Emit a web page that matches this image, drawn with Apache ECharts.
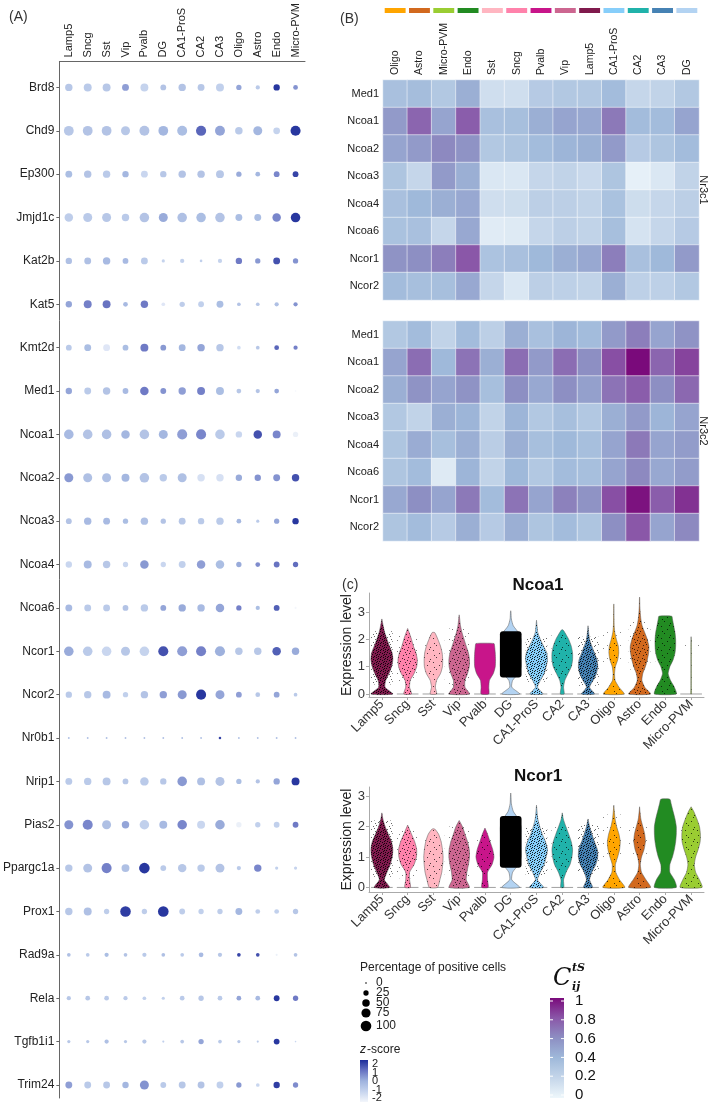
<!DOCTYPE html>
<html><head><meta charset="utf-8">
<script src="https://cdn.jsdelivr.net/npm/echarts@6/dist/echarts.min.js"></script>
<style>html,body{margin:0;padding:0;background:#fff}#c{width:709px;height:1109px}</style>
</head><body><div id="c"></div>
<script>
// ---------------- DATA ----------------
const cellTypes = ['Lamp5','Sncg','Sst','Vip','Pvalb','DG','CA1-ProS','CA2','CA3','Oligo','Astro','Endo','Micro-PVM'];
const genes = ['Brd8','Chd9','Ep300','Jmjd1c','Kat2b','Kat5','Kmt2d','Med1','Ncoa1','Ncoa2','Ncoa3','Ncoa4','Ncoa6','Ncor1','Ncor2','Nr0b1','Nrip1','Pias2','Ppargc1a','Prox1','Rad9a','Rela','Tgfb1i1','Trim24'];
// percentage of positive cells (rows = genes, cols = cellTypes)
const pctRows = [
 [49,56,56,42,56,30,49,42,56,25,16,36,20],
 [85,85,85,72,88,85,88,92,88,50,72,40,90],
 [42,49,49,36,42,36,49,49,56,25,20,30,30],
 [64,72,72,49,81,72,81,81,81,42,42,64,81],
 [36,42,49,30,42,9,16,6,16,36,25,42,25],
 [36,56,56,20,49,12,25,30,42,12,12,16,16],
 [30,42,42,30,56,30,42,49,49,12,12,20,16],
 [36,42,49,30,64,30,49,56,56,20,16,20,0],
 [81,81,81,64,81,72,90,90,81,36,64,56,25],
 [72,72,72,56,81,49,72,49,49,36,36,42,49],
 [30,49,42,25,49,25,42,36,49,20,9,25,36],
 [36,56,49,25,64,25,42,64,64,25,20,30,25],
 [42,42,42,30,49,30,49,49,64,25,16,30,4],
 [81,81,81,72,81,90,90,90,90,49,49,64,49],
 [36,49,56,25,49,49,72,90,72,30,20,30,12],
 [3,3,3,3,3,3,3,3,6,3,3,3,3],
 [42,49,56,30,64,36,81,56,72,25,16,36,56],
 [72,90,72,49,81,56,81,56,81,25,25,30,30],
 [49,72,90,56,100,30,64,49,72,16,49,9,9],
 [49,56,25,100,25,100,30,25,25,42,20,20,25],
 [12,12,16,12,16,12,12,20,16,12,12,4,12],
 [16,20,20,16,12,9,20,25,20,20,20,30,25],
 [9,9,16,9,16,4,12,25,12,9,4,30,2],
 [42,42,42,36,72,30,42,42,42,25,12,36,25]
];
// z-score of expression
const zRows = [
 [-0.5,-0.6,-0.5,0.4,-0.9,-0.4,-0.4,-0.5,-0.8,0.3,-0.6,2.0,0.6],
 [-0.5,-0.4,-0.4,-0.5,-0.4,0,-0.2,1.3,0.3,-0.6,0,-0.9,2.0],
 [-0.2,-0.4,-0.6,0,-1.0,-0.5,-0.4,-0.4,-0.5,0.2,0,0.8,1.8],
 [-0.7,-0.6,-0.5,-0.6,-0.4,0.2,-0.3,-0.2,-0.4,-0.2,-0.2,0.8,2.0],
 [-0.3,-0.3,-0.1,-0.1,-0.6,-0.9,-0.8,-0.8,-0.9,1.0,0.5,1.6,0.6],
 [0.3,0.9,1.1,-0.1,1.0,-1.5,-0.7,-0.8,-0.2,-0.4,-0.5,-0.3,0.6],
 [-0.6,-0.2,-1.5,-0.2,1.0,0.5,0,0.3,-0.5,-1.2,-0.5,1.3,0.9],
 [0.3,-0.6,-0.4,-0.1,1.0,0.6,0.4,0.9,-0.2,-0.5,-0.4,0.3,-2],
 [-0.1,-0.4,-0.3,0,-0.4,0,0.4,0.8,-0.6,-1.0,1.6,0.8,-1.8],
 [0.5,-0.3,-0.3,0,-0.4,-0.6,-0.3,-1.3,-1.3,0.2,0.6,0.6,1.6],
 [-0.4,-0.1,-0.1,-0.2,-0.3,-0.4,-0.5,-0.6,-0.6,0,-0.6,0.3,2.0],
 [-1.0,-0.1,-0.5,-1.0,0.5,-1.0,-0.8,0.4,-0.2,0.2,0.7,1.1,1.2],
 [-0.1,-0.6,-0.6,-0.4,-0.6,0.3,0.2,-0.1,0.3,0.9,-0.2,1.4,-2],
 [0.2,-0.6,-1.0,-0.5,-0.9,1.6,0.4,0.9,0.1,-0.5,-0.5,1.4,0.2],
 [-0.6,-0.5,-0.1,-0.8,-0.4,0.4,0.5,2.2,0.3,0.4,-0.5,0.3,-0.6],
 [-0.3,-0.3,-0.3,-0.3,-0.3,-0.3,-0.3,-0.3,1.8,-0.3,-0.3,-0.3,-0.3],
 [-0.6,-0.6,-0.5,-0.5,-0.6,-0.5,0.5,-0.3,-0.4,-0.2,-0.4,0.3,2.0],
 [0.6,0.8,-0.3,0.3,-0.8,-0.1,0.8,-1.0,0.2,-1.8,-0.8,-0.8,1.0],
 [-0.5,-0.4,0.9,-0.3,2.2,-0.6,-0.5,-0.6,-0.4,-0.6,0.8,-0.8,-0.9],
 [-0.5,-0.3,-0.7,1.9,-0.7,2.2,-0.7,-0.8,-0.7,0,-0.7,-0.8,-0.5],
 [-0.3,-0.6,-0.2,-0.4,-0.6,-0.3,-0.6,-0.1,-0.5,1.8,1.6,-1.8,-0.4],
 [-0.5,-0.5,-0.6,-0.6,-0.8,-0.8,-0.6,-0.5,-0.6,0.3,-0.1,2.0,1.0],
 [-0.5,-0.5,-0.3,-0.5,-0.5,-0.8,-0.5,0.3,-0.6,-0.5,-0.6,2.0,-1.0],
 [0.4,-0.6,-0.5,0,0.6,-0.6,-0.5,-0.4,-0.8,0.5,-1.0,1.9,0.7]
];

// Panel B heatmaps
const heatCols = ['Oligo','Astro','Micro-PVM','Endo','Sst','Sncg','Pvalb','Vip','Lamp5','CA1-ProS','CA2','CA3','DG'];
const heatGenes = ['Med1','Ncoa1','Ncoa2','Ncoa3','Ncoa4','Ncoa6','Ncor1','Ncor2'];
const nr3c1 = [
 [0.35,0.37,0.30,0.45,0.15,0.15,0.28,0.30,0.30,0.38,0.20,0.22,0.30],
 [0.55,0.75,0.50,0.78,0.35,0.36,0.45,0.50,0.48,0.68,0.38,0.38,0.50],
 [0.50,0.55,0.62,0.58,0.30,0.32,0.38,0.42,0.44,0.55,0.28,0.32,0.38],
 [0.32,0.20,0.55,0.45,0.10,0.10,0.20,0.22,0.18,0.32,0.04,0.10,0.22],
 [0.35,0.40,0.45,0.48,0.15,0.16,0.25,0.25,0.22,0.34,0.16,0.20,0.25],
 [0.34,0.35,0.20,0.48,0.07,0.08,0.20,0.25,0.22,0.36,0.12,0.20,0.28],
 [0.58,0.60,0.66,0.80,0.33,0.35,0.40,0.45,0.48,0.66,0.35,0.40,0.55],
 [0.38,0.36,0.36,0.48,0.20,0.10,0.25,0.24,0.22,0.45,0.24,0.24,0.30]
];
const nr3c2 = [
 [0.30,0.38,0.22,0.38,0.25,0.45,0.35,0.42,0.38,0.55,0.66,0.50,0.58],
 [0.50,0.72,0.40,0.70,0.45,0.72,0.55,0.72,0.60,0.82,1.00,0.75,0.85],
 [0.45,0.58,0.50,0.58,0.36,0.60,0.48,0.60,0.52,0.70,0.78,0.60,0.74],
 [0.30,0.22,0.45,0.42,0.22,0.42,0.30,0.36,0.30,0.45,0.55,0.42,0.50],
 [0.32,0.46,0.36,0.45,0.26,0.45,0.36,0.40,0.36,0.50,0.68,0.50,0.54],
 [0.32,0.38,0.08,0.42,0.22,0.40,0.30,0.38,0.36,0.50,0.62,0.48,0.54],
 [0.48,0.60,0.50,0.68,0.38,0.70,0.50,0.65,0.58,0.82,0.98,0.78,0.90],
 [0.32,0.38,0.28,0.45,0.28,0.45,0.32,0.38,0.32,0.60,0.80,0.50,0.62]
];

const typeColors = {
 'Lamp5':'#801a4d','Sncg':'#ff82ab','Sst':'#ffb6c1','Vip':'#cc6690','Pvalb':'#c8158a',
 'DG':'#b3d3f2','CA1-ProS':'#87cefa','CA2':'#20b2aa','CA3':'#4682b4',
 'Oligo':'#ffa500','Astro':'#d2691e','Endo':'#228b22','Micro-PVM':'#9acd32'
};

// Panel C violins: half-widths (fraction of half band) at levels 0,0.25,0.5,...
const levelStep = 0.25;
const ncoa1Widths = [
 [0.85,0.25,0.3,0.55,0.75,0.85,0.8,0.6,0.4,0.22,0.1],
 [0.3,0.15,0.2,0.5,0.7,0.75,0.65,0.45,0.3,0.12],
 [0.25,0.15,0.25,0.55,0.7,0.72,0.68,0.55,0.35],
 [0.8,0.45,0.45,0.65,0.78,0.8,0.72,0.55,0.38,0.22,0.1,0.04],
 [0.3,0.3,0.35,0.65,0.8,0.82,0.8,0.75],
 [0.7,0.08,0.15,0.6,0.8,0.8,0.8,0.8,0.8,0.6,0.2,0.05,0.02],
 [0.5,0.08,0.3,0.6,0.75,0.85,0.8,0.55,0.3,0.1,0.04],
 [0.15,0.1,0.2,0.45,0.7,0.8,0.8,0.7,0.5,0.2],
 [0.5,0.12,0.4,0.65,0.75,0.7,0.5,0.3,0.12,0.05],
 [0.8,0.4,0.1,0.06,0.12,0.3,0.38,0.35,0.2,0.08,0.03,0.02,0.01,0.01],
 [0.85,0.4,0.18,0.25,0.45,0.6,0.7,0.72,0.6,0.4,0.2,0.1,0.05,0.02,0.01],
 [0.85,0.7,0.4,0.22,0.35,0.6,0.75,0.8,0.8,0.75,0.65,0.55],
 [0.03,0.02,0.02,0.02,0.02,0.02,0.02,0.02,0.01]
];
const ncoa1Top  = [2.75,2.4,2.25,2.9,1.85,3.05,2.7,2.35,2.5,3.3,3.55,2.85,2.1];
const ncoa1TopW = [0,0,0.1,0,0.7,0,0,0.05,0,0,0,0.5,0];
// [low, high, density of jittered cells]
const ncoa1Cloud = [[0.35,2.3,3],[0.4,2.2,2],[0.4,2.1,1],[0.3,2.4,2],[0,0,0],[0.6,2.3,4],[0.45,2.05,3],[0.5,2.2,1],[0.3,2.1,3],[1.0,2.4,1],[0.9,2.7,2],[1.2,2.4,1],[1.7,2.1,1]];

const ncor1Widths = [
 [0.6,0.2,0.4,0.65,0.8,0.85,0.75,0.5,0.25,0.08],
 [0.22,0.15,0.15,0.5,0.68,0.7,0.55,0.3,0.05],
 [0.32,0.5,0.65,0.72,0.75,0.7,0.6,0.4],
 [0.78,0.55,0.6,0.72,0.8,0.78,0.65,0.45,0.25],
 [0.25,0.2,0.2,0.55,0.7,0.6,0.4,0.2],
 [0.7,0.08,0.15,0.6,0.8,0.8,0.8,0.8,0.8,0.6,0.2,0.05,0.02],
 [0.55,0.08,0.3,0.6,0.75,0.85,0.7,0.45,0.25,0.1,0.04],
 [0.12,0.1,0.3,0.6,0.75,0.8,0.7,0.5,0.28,0.08],
 [0.35,0.12,0.3,0.6,0.75,0.72,0.5,0.3,0.12],
 [0.85,0.45,0.15,0.12,0.3,0.45,0.5,0.4,0.22,0.1,0.04],
 [0.85,0.5,0.15,0.06,0.15,0.35,0.45,0.4,0.25,0.1,0.03],
 [0.85,0.7,0.35,0.35,0.55,0.7,0.8,0.85,0.85,0.75,0.6,0.45],
 [0.85,0.65,0.35,0.25,0.35,0.55,0.7,0.72,0.65,0.45,0.2]
];
const ncor1Top  = [2.45,2.05,1.92,2.2,1.95,3.1,2.7,2.45,2.25,2.7,2.65,2.9,2.65];
const ncor1TopW = [0,0,0.1,0,0,0,0,0,0,0,0,0.35,0];
const ncor1Cloud = [[0.35,2.2,3],[0.3,1.9,2],[0.3,1.8,1],[0.3,2.0,2],[0.5,1.8,1],[0.65,2.35,4],[0.4,1.95,3],[0.5,2.0,1],[0.45,2.05,3],[0.9,2.4,1],[1.1,2.2,1],[0,0,0],[1.5,2.2,1]];

// legend ticks
const sizeLegend = [0,25,50,75,100];
const zTicks = ['2','1','0','-1','-2'];
const cTicks = ['1','0.8','0.6','0.4','0.2','0'];

// ---------------- STYLE ----------------
const FONT = 'Liberation Sans, Arial, sans-serif';
const zColors = ['#f3f6fb','#c6d4ee','#9fb3de','#6773c2','#1c2c9a'];
const heatColors = ['#eef7fb','#c5d6ea','#9fb9da','#8d8fc3','#8a57a8','#7a0a7b'];
function dotSize(p){ return Math.max(1.6, 10.6*Math.sqrt(p/100)); }

const dotData = [];
genes.forEach((g,r)=>cellTypes.forEach((c,k)=>dotData.push([k, r, pctRows[r][k], zRows[r][k]])));
function heatData(m){ const d=[]; m.forEach((row,r)=>row.forEach((v,k)=>d.push([k,r,v]))); return d; }

// speckle textures that imitate jittered cell points
function makePattern(size, dots, alpha){
  const cv = document.createElement('canvas'); cv.width = size; cv.height = size;
  const ctx = cv.getContext('2d'); ctx.fillStyle = 'rgba(0,0,0,'+alpha+')';
  dots.forEach(d=>ctx.fillRect(d[0], d[1], 1, 1));
  return {image: cv, repeat: 'repeat'};
}
const innerPatterns = [null,
  makePattern(12, [[1,2],[7,5],[4,9],[10,11],[9,1],[2,7]], 0.7),
  makePattern(10, [[0,1],[3,5],[5,2],[8,7],[2,8],[7,0],[6,4],[9,3],[4,9]], 0.75),
  makePattern(7, [[0,0],[2,1],[4,2],[1,3],[5,4],[3,5],[0,5],[6,1],[5,6],[2,6],[6,3]], 0.85),
  '#000'];
const haloPatterns = [null,
  makePattern(13, [[2,3],[9,8],[5,11]], 0.45),
  makePattern(11, [[1,2],[6,6],[9,1],[3,9]], 0.5),
  makePattern(8, [[0,1],[3,5],[5,2],[7,7],[2,6],[6,4]], 0.6),
  '#000'];

function violinRenderer(widths, tops, topW, clouds){
  return function(params, api){
    const i = api.value(0);
    const band = api.size([1,0])[0];
    const half = band/2;
    const base = api.coord([i,0]);
    const cx = base[0], y0 = base[1];
    const w = widths[i];
    const left = [], right = [];
    for (let k=0;k<w.length;k++){
      const lv = k*levelStep;
      if (lv >= tops[i]) break;
      const py = api.coord([i,lv])[1];
      left.push([cx - w[k]*half, py]); right.push([cx + w[k]*half, py]);
    }
    const pt = api.coord([i,tops[i]])[1];
    left.push([cx - topW[i]*half, pt]); right.push([cx + topW[i]*half, pt]);
    const pts = left.concat(right.slice().reverse());
    const col = typeColors[cellTypes[i]];
    const children = [
      {type:'line', shape:{x1:cx-0.42*band, y1:y0, x2:cx+0.42*band, y2:y0}, style:{stroke:'#a0a0a0', lineWidth:1}}
    ];
    const cl = clouds[i];
    const yt = api.coord([i,cl[1]])[1], yb = api.coord([i,cl[0]])[1];
    if (cl[2] > 0 && cl[2] < 4){
      children.push({type:'rect', shape:{x:cx-0.42*band, y:yt, width:0.84*band, height:yb-yt}, style:{fill:haloPatterns[cl[2]]}});
    }
    children.push({type:'polygon', shape:{points:pts, smooth:0.2}, style:{fill:col, stroke:'#555', lineWidth:0.5}});
    if (cl[2] > 0 && cl[2] < 4){
      children.push({type:'polygon', shape:{points:pts, smooth:0.2}, style:{fill:innerPatterns[cl[2]]}});
    }
    if (cl[2] === 4){
      children.push({type:'rect', shape:{x:cx-0.42*band, y:yt, width:0.84*band, height:yb-yt, r:3}, style:{fill:'#000'}});
    }
    return {type:'group', children};
  };
}

// ---------------- GRAPHICS (labels, legends) ----------------
const graphics = [];
function txt(x,y,text,opt){
  opt = opt||{};
  graphics.push({type:'text', x, y, rotation: opt.rot||0, silent:true,
    style:{text, fill: opt.color||'#222', font: (opt.style||'normal')+' '+(opt.weight||'normal')+' '+(opt.size||12)+'px '+(opt.family||FONT),
      align: opt.align||'left', verticalAlign: opt.va||'middle'}});
}
txt(9,17,'(A)',{size:14,color:'#333'});
txt(340,19,'(B)',{size:14,color:'#333'});
txt(342,585,'(c)',{size:14,color:'#333'});
txt(703,190,'Nr3c1',{size:11,rot:-Math.PI/2,align:'center'});
txt(703,431,'Nr3c2',{size:11,rot:-Math.PI/2,align:'center'});
txt(538,585,'Ncoa1',{size:17,weight:'bold',align:'center',color:'#111'});
txt(538,776,'Ncor1',{size:17,weight:'bold',align:'center',color:'#111'});
// size legend
txt(360,968,'Percentage of positive cells',{size:12});
const sizeY = [983,993,1003,1013,1026];
sizeLegend.forEach((p,k)=>{
  graphics.push({type:'circle', silent:true, shape:{cx:366, cy:sizeY[k], r:dotSize(p)/2}, style:{fill:'#000'}});
  txt(376,sizeY[k],String(p),{size:12});
});
// z-score legend
txt(360,1050,'z',{size:12,style:'italic'});
txt(367,1050,'-score',{size:12});
graphics.push({type:'rect', silent:true, shape:{x:360,y:1060,width:8,height:42},
  style:{fill:new echarts.graphic.LinearGradient(0,0,0,1, zColors.slice().reverse().map((c,k)=>({offset:k/(zColors.length-1), color:c})))}});
zTicks.forEach((t,k)=>txt(372,1064+k*8.5,t,{size:11}));
// C legend
txt(553,979,'C',{size:24,style:'italic',family:'DejaVu Serif, serif',color:'#111'});
txt(572,968,'tS',{size:11,style:'italic',weight:'bold',family:'DejaVu Serif, serif',color:'#111'});
txt(572,987,'ij',{size:11,style:'italic',weight:'bold',family:'DejaVu Serif, serif',color:'#111'});
graphics.push({type:'rect', silent:true, shape:{x:550,y:998,width:14,height:100},
  style:{fill:new echarts.graphic.LinearGradient(0,0,0,1, heatColors.slice().reverse().map((c,k)=>({offset:k/(heatColors.length-1), color:c})))}});
cTicks.forEach((t,k)=>{
  const y = 1001 + k*18.8;
  graphics.push({type:'line', silent:true, shape:{x1:550,y1:y,x2:553,y2:y}, style:{stroke:'#fff',lineWidth:1}});
  graphics.push({type:'line', silent:true, shape:{x1:561,y1:y,x2:564,y2:y}, style:{stroke:'#fff',lineWidth:1}});
  txt(575,y,t,{size:15,color:'#111'});
});

// ---------------- OPTION ----------------
const violinX = (gi) => ({type:'category', gridIndex:gi, data:cellTypes, boundaryGap:true,
  axisLine:{onZero:false, lineStyle:{color:'#aaa'}}, axisTick:{show:true, alignWithLabel:true, length:3, lineStyle:{color:'#aaa'}},
  axisLabel:{rotate:45, fontSize:13, color:'#333', margin:5, interval:0}});
const violinY = (gi,min,max) => ({type:'value', gridIndex:gi, min, max, splitLine:{show:false},
  name:'Expression level', nameLocation:'middle', nameGap:14, nameRotate:90, nameTextStyle:{fontSize:14, color:'#222'},
  axisLine:{show:true, onZero:false, lineStyle:{color:'#aaa'}}, axisTick:{show:true, length:3, customValues:[0,1,2,3], lineStyle:{color:'#aaa'}},
  axisLabel:{customValues:[0,1,2,3], fontSize:13, color:'#333', margin:4}});

const option = {
  animation:false,
  backgroundColor:'#fff',
  textStyle:{fontFamily:FONT},
  grid:[
    {left:52.5, top:59, width:252.5, height:1039},   // 0 dot plot
    {left:383, top:80, width:316, height:220},       // 1 Nr3c1
    {left:383, top:321, width:316, height:220},      // 2 Nr3c2
    {left:383, top:8, width:316, height:5},          // 3 strip
    {left:369, top:593, width:335, height:104},      // 4 Ncoa1 violin
    {left:369, top:787, width:335, height:105}       // 5 Ncor1 violin
  ],
  xAxis:[
    {type:'category', gridIndex:0, data:cellTypes, position:'top', boundaryGap:true,
     axisLine:{onZero:false, lineStyle:{color:'#666'}}, axisTick:{alignWithLabel:true, length:3, lineStyle:{color:'#666'}},
     axisLabel:{rotate:-90, fontSize:11, color:'#222', margin:4, interval:0}},
    {type:'category', gridIndex:1, data:heatCols, position:'top',
     axisLine:{show:false}, axisTick:{show:false}, axisLabel:{rotate:-90, fontSize:10.5, color:'#222', margin:5, interval:0}},
    {type:'category', gridIndex:2, data:heatCols, axisLine:{show:false}, axisTick:{show:false}, axisLabel:{show:false}},
    {type:'category', gridIndex:3, data:heatCols, show:false},
    violinX(4), violinX(5)
  ],
  yAxis:[
    {type:'value', gridIndex:0, min:-0.6, max:23.3, inverse:true, splitLine:{show:false},
     axisLine:{show:true, onZero:false, lineStyle:{color:'#666'}},
     axisTick:{show:true, length:3, customValues:genes.map((g,i)=>i), lineStyle:{color:'#666'}},
     axisLabel:{customValues:genes.map((g,i)=>i), formatter:(v)=>genes[Math.round(v)], fontSize:12, color:'#222', margin:5}},
    {type:'category', gridIndex:1, data:heatGenes, inverse:true, axisLine:{show:false}, axisTick:{show:false},
     axisLabel:{fontSize:11, color:'#222', margin:4}},
    {type:'category', gridIndex:2, data:heatGenes, inverse:true, axisLine:{show:false}, axisTick:{show:false},
     axisLabel:{fontSize:11, color:'#222', margin:4}},
    {type:'value', gridIndex:3, min:0, max:1, show:false},
    violinY(4,-0.11,3.7), violinY(5,-0.15,3.3)
  ],
  visualMap:[
    {type:'continuous', show:false, seriesIndex:0, dimension:3, min:-2, max:2, inRange:{color:zColors}},
    {type:'continuous', show:false, seriesIndex:[1,2], dimension:2, min:0, max:1, inRange:{color:heatColors}}
  ],
  series:[
    {type:'scatter', xAxisIndex:0, yAxisIndex:0, data:dotData, symbol:'circle',
     symbolSize:(v)=>dotSize(v[2]), itemStyle:{opacity:0.95}, emphasis:{disabled:true}},
    {type:'heatmap', xAxisIndex:1, yAxisIndex:1, data:heatData(nr3c1),
     itemStyle:{borderColor:'rgba(255,255,255,0.5)', borderWidth:1}, emphasis:{disabled:true}},
    {type:'heatmap', xAxisIndex:2, yAxisIndex:2, data:heatData(nr3c2),
     itemStyle:{borderColor:'rgba(255,255,255,0.5)', borderWidth:1}, emphasis:{disabled:true}},
    {type:'bar', xAxisIndex:3, yAxisIndex:3, barWidth:'86%', silent:true,
     data:heatCols.map(c=>({value:1, itemStyle:{color:typeColors[c]}}))},
    {type:'custom', xAxisIndex:4, yAxisIndex:4, silent:true, data:cellTypes.map((c,i)=>[i]),
     renderItem:violinRenderer(ncoa1Widths, ncoa1Top, ncoa1TopW, ncoa1Cloud)},
    {type:'custom', xAxisIndex:5, yAxisIndex:5, silent:true, data:cellTypes.map((c,i)=>[i]),
     renderItem:violinRenderer(ncor1Widths, ncor1Top, ncor1TopW, ncor1Cloud)}
  ],
  graphic:graphics
};
const chart = echarts.init(document.getElementById('c'), null, {renderer:'canvas'});
chart.setOption(option);
</script>
</body></html>
